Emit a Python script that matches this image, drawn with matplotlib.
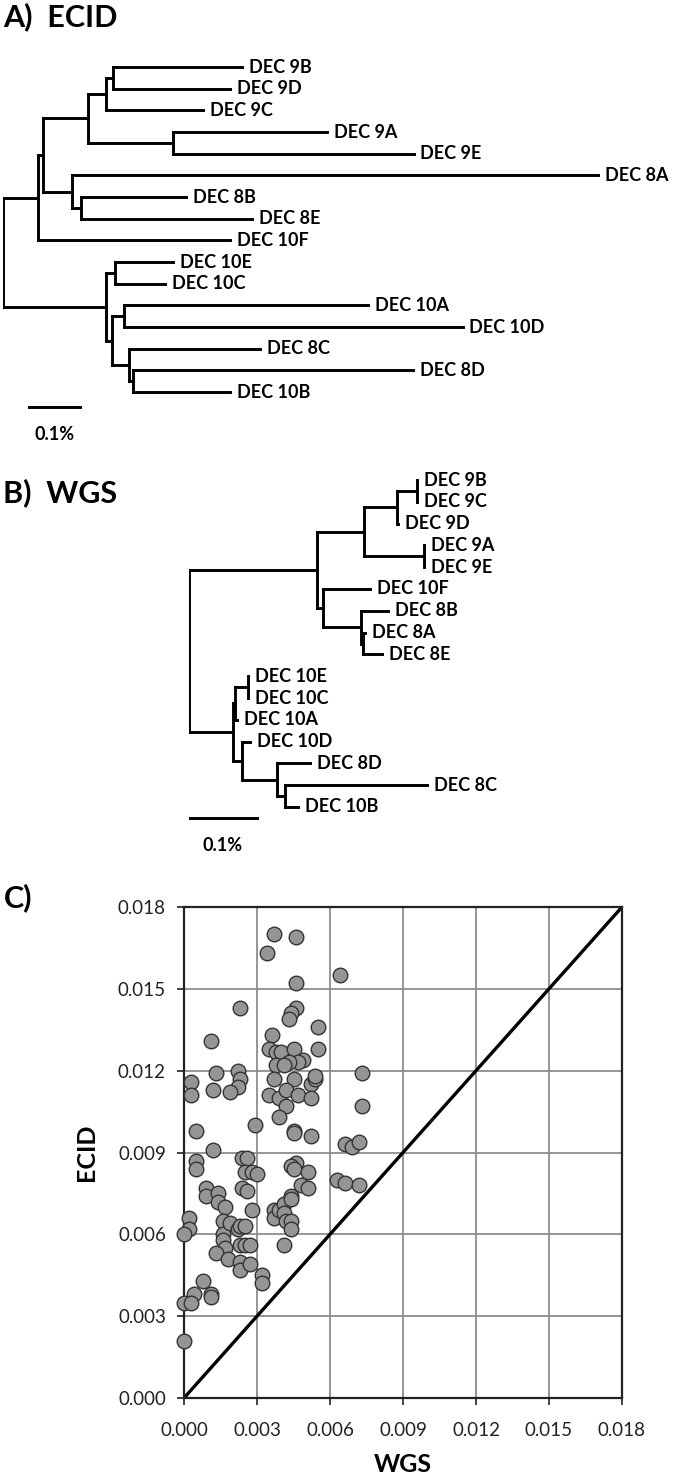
import matplotlib
matplotlib.use('Agg')
import matplotlib.pyplot as plt

plt.rcParams['font.family'] = ['Lato', 'DejaVu Sans']

W, H = 680, 1478

# ---- A) ECID tree: edges as (parent, child, branch length in %)
ecid_leaves = ['DEC 9B', 'DEC 9D', 'DEC 9C', 'DEC 9A', 'DEC 9E', 'DEC 8A', 'DEC 8B', 'DEC 8E',
               'DEC 10F', 'DEC 10E', 'DEC 10C', 'DEC 10A', 'DEC 10D', 'DEC 8C', 'DEC 8D', 'DEC 10B']
ecid_edges = [
    ('root', 'n1', 0.069), ('root', 'n9', 0.202),
    ('n1', 'n2', 0.010), ('n1', 'DEC 10F', 0.376),
    ('n2', 'n3', 0.088), ('n2', 'n4', 0.057),
    ('n3', 'n5', 0.035), ('n3', 'n6', 0.167),
    ('n5', 'n7', 0.014), ('n5', 'DEC 9C', 0.190),
    ('n7', 'DEC 9B', 0.253), ('n7', 'DEC 9D', 0.229),
    ('n6', 'DEC 9A', 0.302), ('n6', 'DEC 9E', 0.471),
    ('n4', 'DEC 8A', 1.031), ('n4', 'n8', 0.016),
    ('n8', 'DEC 8B', 0.206), ('n8', 'DEC 8E', 0.337),
    ('n9', 'n10', 0.018), ('n9', 'n11', 0.012),
    ('n10', 'DEC 10E', 0.114), ('n10', 'DEC 10C', 0.098),
    ('n11', 'n12', 0.024), ('n11', 'n13', 0.033),
    ('n12', 'DEC 10A', 0.478), ('n12', 'DEC 10D', 0.663),
    ('n13', 'DEC 8C', 0.257), ('n13', 'n14', 0.008),
    ('n14', 'DEC 8D', 0.549), ('n14', 'DEC 10B', 0.190),
]

# ---- B) WGS tree
wgs_leaves = ['DEC 9B', 'DEC 9C', 'DEC 9D', 'DEC 9A', 'DEC 9E', 'DEC 10F', 'DEC 8B', 'DEC 8A',
              'DEC 8E', 'DEC 10E', 'DEC 10C', 'DEC 10A', 'DEC 10D', 'DEC 8D', 'DEC 8C', 'DEC 10B']
wgs_edges = [
    ('root', 'n1', 0.188), ('root', 'n9', 0.065),
    ('n1', 'n2', 0.069), ('n1', 'n3', 0.009),
    ('n2', 'n4', 0.049), ('n2', 'n5', 0.088),
    ('n4', 'n6', 0.029), ('n4', 'DEC 9D', 0.002),
    ('n6', 'DEC 9B', 0.0), ('n6', 'DEC 9C', 0.0),
    ('n5', 'DEC 9A', 0.0), ('n5', 'DEC 9E', 0.0),
    ('n3', 'DEC 10F', 0.069), ('n3', 'n7', 0.056),
    ('n7', 'DEC 8B', 0.040), ('n7', 'n8', 0.003),
    ('n8', 'DEC 8A', 0.003), ('n8', 'DEC 8E', 0.028),
    ('n9', 'na', 0.003), ('n9', 'n11', 0.013),
    ('na', 'n10', 0.019), ('na', 'DEC 10A', 0.003),
    ('n10', 'DEC 10E', 0.0), ('n10', 'DEC 10C', 0.0),
    ('n11', 'DEC 10D', 0.012), ('n11', 'n12', 0.051),
    ('n12', 'DEC 8D', 0.049), ('n12', 'n13', 0.012),
    ('n13', 'DEC 8C', 0.209), ('n13', 'DEC 10B', 0.019),
]

scale_bar = 0.1  # %

# ---- C) pairwise distances
wgs_dist = [0.0037, 0.0046, 0.0034, 0.0064, 0.0046, 0.0023, 0.0046, 0.0044, 0.0043, 0.0055,
            0.0036, 0.0011, 0.0035, 0.0038, 0.0040, 0.0045, 0.0055, 0.0049, 0.0047, 0.0043,
            0.0038, 0.0041, 0.0013, 0.0022, 0.0023, 0.0022, 0.0019, 0.0012, 0.0003, 0.0003,
            0.0037, 0.0045, 0.0052, 0.0054, 0.0054, 0.0035, 0.0039, 0.0042, 0.0047, 0.0052,
            0.0042, 0.0039, 0.0029, 0.0073, 0.0073, 0.0005, 0.0045, 0.0045, 0.0052, 0.0066,
            0.0069, 0.0072, 0.0012, 0.0005, 0.0005, 0.0024, 0.0026, 0.0046, 0.0044, 0.0045,
            0.0051, 0.0025, 0.0028, 0.0030, 0.0063, 0.0066, 0.0072, 0.0009, 0.0009, 0.0014,
            0.0014, 0.0017, 0.0024, 0.0026, 0.0028, 0.0048, 0.0051, 0.0037, 0.0037, 0.0039,
            0.0041, 0.0041, 0.0044, 0.0044, 0.0042, 0.0044, 0.0044, 0.0041, 0.0002, 0.0002,
            0.0000, 0.0016, 0.0016, 0.0019, 0.0022, 0.0023, 0.0025, 0.0016, 0.0017, 0.0013,
            0.0018, 0.0023, 0.0025, 0.0027, 0.0023, 0.0023, 0.0027, 0.0032, 0.0032, 0.0008,
            0.0004, 0.0011, 0.0011, 0.0000, 0.0003, 0.0000]
ecid_dist = [0.0170, 0.0169, 0.0163, 0.0155, 0.0152, 0.0143, 0.0143, 0.0141, 0.0139, 0.0136,
             0.0133, 0.0131, 0.0128, 0.0127, 0.0127, 0.0128, 0.0128, 0.0124, 0.0123, 0.0123,
             0.0122, 0.0122, 0.0119, 0.0120, 0.0117, 0.0114, 0.0112, 0.0113, 0.0116, 0.0111,
             0.0117, 0.0117, 0.0115, 0.0117, 0.0118, 0.0111, 0.0110, 0.0113, 0.0111, 0.0110,
             0.0107, 0.0103, 0.0100, 0.0119, 0.0107, 0.0098, 0.0098, 0.0097, 0.0096, 0.0093,
             0.0092, 0.0094, 0.0091, 0.0087, 0.0084, 0.0088, 0.0088, 0.0086, 0.0085, 0.0084,
             0.0083, 0.0083, 0.0083, 0.0082, 0.0080, 0.0079, 0.0078, 0.0077, 0.0074, 0.0075,
             0.0072, 0.0070, 0.0077, 0.0076, 0.0069, 0.0078, 0.0077, 0.0069, 0.0066, 0.0069,
             0.0071, 0.0068, 0.0074, 0.0073, 0.0065, 0.0065, 0.0062, 0.0056, 0.0066, 0.0062,
             0.0060, 0.0065, 0.0060, 0.0064, 0.0062, 0.0063, 0.0063, 0.0058, 0.0055, 0.0053,
             0.0051, 0.0056, 0.0056, 0.0056, 0.0050, 0.0047, 0.0049, 0.0045, 0.0042, 0.0043,
             0.0038, 0.0038, 0.0037, 0.0035, 0.0035, 0.0021]
tick_vals = [0.000, 0.003, 0.006, 0.009, 0.012, 0.015, 0.018]

LABEL_SIZE = 13


def px_axes(fig, left, top, right, bottom):
    return fig.add_axes([left / W, 1 - bottom / H, (right - left) / W, (bottom - top) / H])


def layout(edges, leaves):
    children, length = {}, {}
    for p, c, l in edges:
        children.setdefault(p, []).append(c)
        length[c] = l
    x, y = {'root': 0.0}, {}

    def walk(n):
        for c in children.get(n, []):
            x[c] = x[n] + length[c]
            walk(c)
        if n in children:
            ys = [y[c] for c in children[n]]
            y[n] = (min(ys) + max(ys)) / 2
        else:
            y[n] = leaves.index(n)
    walk('root')
    return children, length, x, y


def draw_tree(ax, edges, leaves, bar_x0, bar_y, label_y, xmax):
    children, length, x, y = layout(edges, leaves)
    kw = dict(color='black', lw=2.1, solid_capstyle='projecting')
    for n, ch in children.items():
        ys = [y[c] for c in ch]
        ax.plot([x[n], x[n]], [min(ys), max(ys)], **kw)
        for c in ch:
            if length[c] > 0:
                ax.plot([x[n], x[c]], [y[c], y[c]], **kw)
    for leaf in leaves:
        ax.annotate(leaf, (x[leaf], y[leaf]), xytext=(5, 0), textcoords='offset points',
                    va='center', ha='left', fontsize=LABEL_SIZE, fontweight='bold')
    ax.plot([bar_x0, bar_x0 + scale_bar], [bar_y, bar_y], **kw)
    ax.text(bar_x0 + scale_bar / 2, label_y, '0.1%', ha='center', va='center',
            fontsize=LABEL_SIZE, fontweight='bold')
    ax.set_xlim(0, xmax)
    ax.set_ylim(17.5, -0.5)
    ax.axis('off')


fig = plt.figure(figsize=(W / 100, H / 100), dpi=100)

# Panel A
axA = px_axes(fig, 3, 56.2, 3 + 510 * 1.3, 446.2)
draw_tree(axA, ecid_edges, ecid_leaves, 0.051, 15.69, 16.95, 1.3)
fig.text(3 / W, 1 - 17 / H, 'A)  ECID', fontsize=22, fontweight='bold', va='center', ha='left')

# Panel B
axB = px_axes(fig, 189, 469.1, 189 + 680 * 0.7, 861.5)
draw_tree(axB, wgs_edges, wgs_leaves, 0.0, 15.5, 16.75, 0.7)
fig.text(3 / W, 1 - 493 / H, 'B)  WGS', fontsize=22, fontweight='bold', va='center', ha='left')

# Panel C
axC = px_axes(fig, 184, 907, 622, 1398)
axC.plot([0, 0.018], [0, 0.018], color='black', lw=2.4, zorder=2)
axC.scatter(wgs_dist, ecid_dist, s=110, facecolor='#959595', edgecolor='#333333',
            linewidths=1.0, zorder=3, clip_on=False)
axC.set_xlim(0, 0.018)
axC.set_ylim(0, 0.018)
axC.set_xticks(tick_vals)
axC.set_yticks(tick_vals)
axC.set_xticklabels([f'{v:.3f}' for v in tick_vals])
axC.set_yticklabels([f'{v:.3f}' for v in tick_vals])
axC.tick_params(direction='out', length=5, width=1.2, labelsize=13.5, colors='#222222')
axC.tick_params(axis='x', pad=12)
axC.tick_params(axis='y', pad=8)
axC.grid(True, color='#8c8c8c', lw=1.3, zorder=0)
axC.set_axisbelow(True)
for s in axC.spines.values():
    s.set_linewidth(1.6)
    s.set_color('#222222')
axC.set_xlabel('WGS', fontsize=18, fontweight='bold', labelpad=10)
axC.set_ylabel('ECID', fontsize=18, fontweight='bold', labelpad=14)
fig.text(4 / W, 1 - 898 / H, 'C)', fontsize=22, fontweight='bold', va='center', ha='left')

fig.savefig('out.png', dpi=100)
